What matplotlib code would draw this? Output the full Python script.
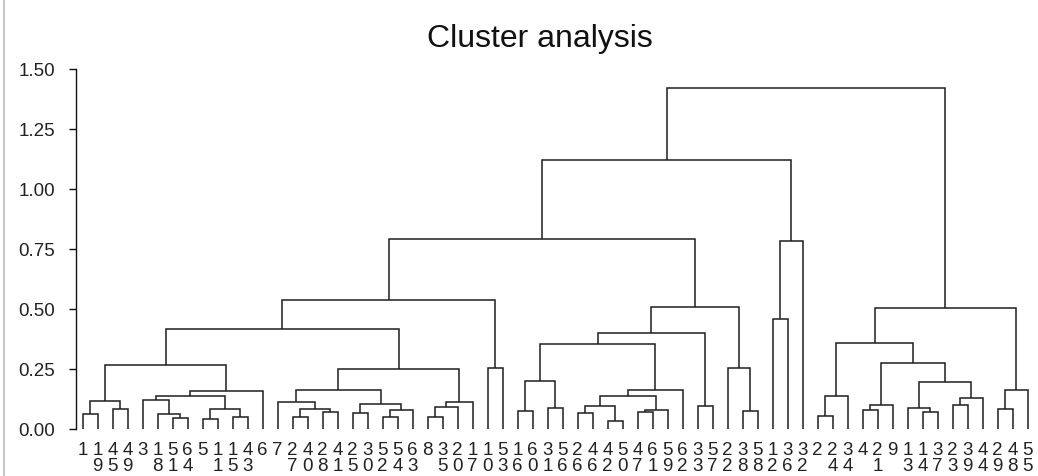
import matplotlib
matplotlib.use("Agg")
import matplotlib.pyplot as plt
from matplotlib.lines import Line2D

# Leaf labels in display order (left to right)
leaf_labels = [1, 19, 45, 49, 3, 18, 51, 64, 5, 11, 15, 43, 6, 7,
               27, 40, 28, 41, 25, 30, 52, 54, 63, 8, 35, 20, 17,
               10, 53, 16, 60, 31, 56, 26, 46, 42, 50, 47, 61, 59, 62,
               33, 57, 22, 38, 58, 12, 36, 32, 2, 24, 34, 4, 21, 9,
               13, 14, 37, 23, 39, 44, 29, 48, 55]

# Merge table: (cluster a, cluster b, height); ids 0..63 are leaves (display order),
# new clusters get ids 64, 65, ... in the order listed
merge_a = [0, 2, 64, 6, 5, 4, 8, 10, 70, 69, 73, 66,
           14, 16, 76, 13, 18, 20, 81, 80, 79, 23, 85, 86, 84, 75, 27, 89,
           29, 31, 92, 33, 35, 95, 37, 98, 97, 100, 94, 41, 102, 44, 43, 104, 91,
           46, 109, 108,
           49, 112, 52, 114, 56, 55, 58, 118, 117, 115, 113, 61, 123, 122, 111]
merge_b = [1, 3, 65, 7, 67, 68, 9, 11, 71, 72, 12, 74,
           15, 17, 77, 78, 19, 21, 22, 82, 83, 24, 25, 26, 87, 88, 28, 90,
           30, 32, 93, 34, 36, 96, 38, 39, 99, 40, 101, 42, 103, 45, 105, 106, 107,
           47, 48, 110,
           50, 51, 53, 54, 57, 116, 59, 60, 119, 120, 121, 62, 63, 124, 125]
merge_h = [0.063, 0.083, 0.118, 0.045, 0.063, 0.121, 0.040, 0.050, 0.082, 0.137, 0.160, 0.267,
           0.051, 0.072, 0.082, 0.114, 0.068, 0.049, 0.079, 0.105, 0.162, 0.049, 0.090, 0.114,
           0.249, 0.415, 0.255, 0.537,
           0.075, 0.089, 0.200, 0.068, 0.035, 0.096, 0.071, 0.079, 0.137, 0.162, 0.353, 0.096,
           0.400, 0.075, 0.253, 0.507, 0.790,
           0.457, 0.782, 1.120,
           0.055, 0.139, 0.079, 0.100, 0.072, 0.086, 0.100, 0.130, 0.197, 0.276, 0.357, 0.083,
           0.162, 0.503, 1.420]

y_ticks = [0.00, 0.25, 0.50, 0.75, 1.00, 1.25, 1.50]
title = "Cluster analysis"

W, H = 1038, 477
fig = plt.figure(figsize=(W / 100, H / 100), dpi=100)
fig.patch.set_facecolor("white")

ax_left, ax_right = 76, 1038
ax_top, ax_bot = 70, 430
ax = fig.add_axes([ax_left / W, 1 - ax_bot / H, (ax_right - ax_left) / W, (ax_bot - ax_top) / H])

n = len(leaf_labels)
pos = {i: float(i) for i in range(n)}
hgt = {i: 0.0 for i in range(n)}
line_color = "#1e1e1e"
for k, (a, b, h) in enumerate(zip(merge_a, merge_b, merge_h)):
    cid = n + k
    xa, xb = pos[a], pos[b]
    ax.plot([xa, xa, xb, xb], [hgt[a], h, h, hgt[b]], color=line_color, lw=1.1,
            solid_capstyle="butt", solid_joinstyle="miter")
    pos[cid] = (xa + xb) / 2
    hgt[cid] = h

spacing = 15.0  # pixels per leaf
first_leaf_px = 82.5
x0 = -(first_leaf_px - ax_left) / spacing
x1 = x0 + (ax_right - ax_left) / spacing
ax.set_xlim(x0, x1)
ax.set_ylim(0, 1.5)

for s in ["top", "right", "bottom"]:
    ax.spines[s].set_visible(False)
ax.spines["left"].set_color("#111111")
ax.spines["left"].set_linewidth(1.0)
ax.set_xticks([])
ax.set_yticks(y_ticks)
ax.set_yticklabels([f"{v:.2f}" for v in y_ticks], fontsize=13.5, family="Liberation Sans",
                   color="#222222")
ax.tick_params(axis="y", direction="out", length=5, width=1.0, pad=10, color="#111111")
ax.patch.set_alpha(0)

# leaf labels: digits stacked vertically
top_off = -(455 - ax_bot) * 72 / 100
bot_off = -(471 - ax_bot) * 72 / 100
for i, lab in enumerate(leaf_labels):
    s = str(lab)
    ax.annotate(s[0], xy=(i, 0), xycoords=("data", "axes fraction"),
                xytext=(0, top_off), textcoords="offset points",
                ha="center", va="baseline", fontsize=13.5, family="Liberation Sans",
                color="#222222", annotation_clip=False)
    if len(s) > 1:
        ax.annotate(s[1], xy=(i, 0), xycoords=("data", "axes fraction"),
                    xytext=(0, bot_off), textcoords="offset points",
                    ha="center", va="baseline", fontsize=13.5, family="Liberation Sans",
                    color="#222222", annotation_clip=False)

fig.text(540 / W, 1 - 47 / H, title, ha="center", va="baseline", fontsize=23,
         family="Liberation Sans", color="#111111")

fig.add_artist(Line2D([4 / W, 4 / W], [0, 1], transform=fig.transFigure,
                      color="#c8c8c8", lw=1.5))

fig.savefig("out.png", dpi=100, facecolor="white")
